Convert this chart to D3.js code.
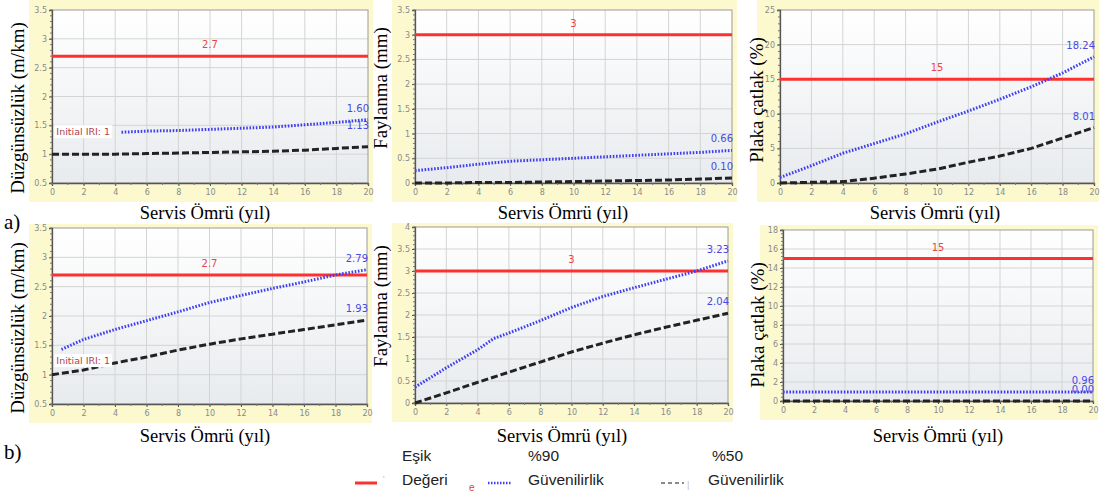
<!DOCTYPE html>
<html>
<head>
<meta charset="utf-8">
<script src="https://cdn.jsdelivr.net/npm/d3@7/dist/d3.min.js"></script>
<style>
  body { margin: 0; background: #fff; }
  svg { display: block; }
</style>
</head>
<body>
<svg id="vis"></svg>
<script>
//DATOS--------------------------------------------------------------------------------------------
const YIL = [0, 2, 4, 6, 8, 10, 12, 14, 16, 18, 20];

// a) fila superior
const A1_P90_YIL = [4.4, 6, 8, 10, 12, 14, 16, 18, 20];
const A1_P90 = [1.38, 1.40, 1.41, 1.43, 1.45, 1.47, 1.51, 1.55, 1.60];
const A1_P50 = [1.0, 1.0, 1.0, 1.01, 1.02, 1.03, 1.04, 1.05, 1.07, 1.10, 1.13];
const A2_P90 = [0.25, 0.31, 0.38, 0.44, 0.47, 0.5, 0.53, 0.56, 0.59, 0.62, 0.66];
const A2_P50 = [0, 0, 0.01, 0.01, 0.02, 0.03, 0.04, 0.05, 0.06, 0.08, 0.1];
const A3_P90 = [0.8, 2.5, 4.3, 5.7, 7.1, 8.8, 10.4, 12.1, 13.9, 15.9, 18.24];
const A3_P50 = [0, 0.1, 0.2, 0.7, 1.3, 2.0, 3.0, 3.9, 5.0, 6.5, 8.01];

// b) fila inferior
const B1_P90_YIL = [0.6, 2, 4, 6, 8, 10, 12, 14, 16, 18, 20];
const B1_P90 = [1.43, 1.6, 1.77, 1.92, 2.07, 2.23, 2.35, 2.47, 2.58, 2.7, 2.79];
const B1_P50 = [1.0, 1.08, 1.2, 1.3, 1.42, 1.52, 1.61, 1.69, 1.77, 1.85, 1.93];
const B2_P90_YIL = [0, 2, 4, 5, 6, 8, 10, 12, 14, 16, 18, 20];
const B2_P90 = [0.36, 0.8, 1.21, 1.46, 1.59, 1.87, 2.17, 2.42, 2.62, 2.81, 3.0, 3.23];
const B2_P50 = [0, 0.23, 0.47, 0.7, 0.93, 1.16, 1.36, 1.55, 1.72, 1.88, 2.04];
const B3_YIL = [0, 20];
const B3_P90 = [0.96, 0.96];
const B3_P50 = [0, 0];

// umbrales (Eşik değeri)
const UMBRALES = [2.7, 3, 15, 2.7, 3, 15];
const TITULOS_Y = ["Düzgünsüzlük (m/km)", "Faylanma (mm)", "Plaka çatlak (%)",
                   "Düzgünsüzlük (m/km)", "Faylanma (mm)", "Plaka çatlak (%)"];
const TITULO_X = "Servis Ömrü (yıl)";
const LEYENDA = [["Eşik", "Değeri"], ["%90", "Güvenilirlik"], ["%50", "Güvenilirlik"]];

//CONSTANTES---------------------------------------------------------------------------------------
const WIDTH = 1100;
const HEIGHT = 492;
const ROJO = "#ff3030";
const AZUL = "#3f3ff2";
const NEGRO = "#222";
const SERIF = "'Liberation Serif', 'Times New Roman', serif";
const SANS = "'DejaVu Sans', Verdana, sans-serif";

const svg = d3.select("#vis").attr("width", WIDTH).attr("height", HEIGHT);
const capaPaneles = svg.append("g");
const capaTitulos = svg.append("g");

const PANELES = [
  { box: { l: 52, r: 368, t: 10, b: 183 }, dom: [0.5, 3.5], paso: 0.5, amarillo: 0,
    p90: [A1_P90_YIL, A1_P90], p50: [YIL, A1_P50], tituloY: [17, 108], tituloX: [205, 213],
    iri: { x: 0.15, y: 1.39 }, dy50: -18 },
  { box: { l: 415, r: 732, t: 10, b: 183 }, dom: [0, 3.5], paso: 0.5, amarillo: 0,
    p90: [YIL, A2_P90], p50: [YIL, A2_P50], tituloY: [380, 88], tituloX: [563, 213] },
  { box: { l: 780, r: 1094, t: 10, b: 183 }, dom: [0, 25], paso: 5, amarillo: 0,
    p90: [YIL, A3_P90], p50: [YIL, A3_P50], tituloY: [756, 100], tituloX: [935, 213] },
  { box: { l: 52, r: 367, t: 228, b: 404 }, dom: [0.5, 3.5], paso: 0.5, amarillo: 224,
    p90: [B1_P90_YIL, B1_P90], p50: [YIL, B1_P50], tituloY: [17, 328], tituloX: [205, 436],
    iri: { x: 0.15, y: 1.24 } },
  { box: { l: 415, r: 728, t: 227, b: 403 }, dom: [0, 4], paso: 0.5, amarillo: 223,
    p90: [B2_P90_YIL, B2_P90], p50: [YIL, B2_P50], tituloY: [380, 306], tituloX: [562, 436] },
  { box: { l: 783, r: 1093, t: 230, b: 401 }, dom: [0, 18], paso: 2, amarillo: 225,
    p90: [B3_YIL, B3_P90], p50: [B3_YIL, B3_P50], tituloY: [757, 325], tituloX: [938, 436] },
];

//GRADIENTE----------------------------------------------------------------------------------------
const defs = svg.append("defs");
const grad = defs.append("linearGradient").attr("id", "fondo")
  .attr("x1", 0).attr("y1", 0).attr("x2", 0).attr("y2", 1);
grad.append("stop").attr("offset", "0%").attr("stop-color", "#ffffff");
grad.append("stop").attr("offset", "100%").attr("stop-color", "#e8ebee");

//FUNCIONES----------------------------------------------------------------------------------------
function pares(xs, ys) {
  return xs.map((x, i) => [x, ys[i]]);
}

function dibujarPanel(p, i) {
  const { l, r, t, b } = p.box;
  const g = capaPaneles.append("g");

  const escalaX = d3.scaleLinear().domain([0, 20]).range([l, r]);
  const escalaY = d3.scaleLinear().domain(p.dom).range([b, t]);
  const ticksY = d3.range(p.dom[0], p.dom[1] + p.paso / 2, p.paso).map(v => +v.toFixed(2));
  const ticksX = d3.range(0, 21, 2);

  // fondo amarillo y area del grafico
  g.append("rect")
    .attr("x", l - 23).attr("y", p.amarillo)
    .attr("width", r - l + 28).attr("height", b - p.amarillo + 19)
    .attr("fill", "#fcf9cf");
  g.append("rect")
    .attr("x", l).attr("y", t).attr("width", r - l).attr("height", b - t)
    .attr("fill", "url(#fondo)");

  // grilla
  g.append("g").selectAll("line").data(ticksX.slice(1, -1)).join("line")
    .attr("x1", d => escalaX(d)).attr("x2", d => escalaX(d))
    .attr("y1", t).attr("y2", b)
    .attr("stroke", "#d4d4d4").attr("stroke-width", 1);
  g.append("g").selectAll("line").data(ticksY.slice(1, -1)).join("line")
    .attr("x1", l).attr("x2", r)
    .attr("y1", d => escalaY(d)).attr("y2", d => escalaY(d))
    .attr("stroke", "#d4d4d4").attr("stroke-width", 1);
  g.append("rect")
    .attr("x", l).attr("y", t).attr("width", r - l).attr("height", b - t)
    .attr("fill", "none").attr("stroke", "#9a9a9a");

  // ejes
  const ejeY = g.append("g").attr("transform", `translate(${l},0)`)
    .call(d3.axisLeft(escalaY).tickValues(ticksY).tickSize(3).tickPadding(2).tickFormat(d => String(d)));
  const ejeX = g.append("g").attr("transform", `translate(0,${b})`)
    .call(d3.axisBottom(escalaX).tickValues(ticksX).tickSize(3).tickPadding(3));
  [ejeY, ejeX].forEach(e => {
    e.select(".domain").attr("stroke", "#555").attr("stroke-width", 1.3);
    e.selectAll(".tick line").attr("stroke", "#555");
    e.selectAll("text").attr("fill", "#8a8a8a").style("font-family", SANS).style("font-size", "8px");
  });
  // ticks menores
  const menoresY = d3.range(p.dom[0], p.dom[1] + 1e-9, p.paso / 5);
  g.append("g").selectAll("line").data(menoresY).join("line")
    .attr("x1", l - 2).attr("x2", l)
    .attr("y1", d => escalaY(d)).attr("y2", d => escalaY(d))
    .attr("stroke", "#777");
  g.append("g").selectAll("line").data(d3.range(0, 20.01, 1)).join("line")
    .attr("x1", d => escalaX(d)).attr("x2", d => escalaX(d))
    .attr("y1", b).attr("y2", b + 2)
    .attr("stroke", "#777");

  // umbral
  const umbral = UMBRALES[i];
  g.append("line")
    .attr("x1", escalaX(0)).attr("x2", escalaX(20))
    .attr("y1", escalaY(umbral)).attr("y2", escalaY(umbral))
    .attr("stroke", ROJO).attr("stroke-width", 3);
  g.append("text")
    .attr("x", escalaX(10)).attr("y", escalaY(umbral) - 8)
    .attr("text-anchor", "middle")
    .attr("fill", "#e94545").style("font-family", SANS).style("font-size", "10px")
    .text(umbral);

  // series
  const linea = d3.line().x(d => escalaX(d[0])).y(d => escalaY(d[1]));
  const datos50 = pares(p.p50[0], p.p50[1]);
  const datos90 = pares(p.p90[0], p.p90[1]);
  g.append("path").datum(datos50).attr("d", linea)
    .attr("fill", "none").attr("stroke", NEGRO).attr("stroke-width", 3)
    .attr("stroke-dasharray", "7,3");
  g.append("path").datum(datos90).attr("d", linea)
    .attr("fill", "none").attr("stroke", AZUL).attr("stroke-width", 3)
    .attr("stroke-dasharray", "1.6,1.6");

  // etiquetas finales
  const fmt = d3.format(".2f");
  const fin90 = datos90[datos90.length - 1];
  const fin50 = datos50[datos50.length - 1];
  g.append("text")
    .attr("x", r + 1).attr("y", escalaY(fin90[1]) - 8)
    .attr("text-anchor", "end")
    .attr("fill", "#4848e6").style("font-family", SANS).style("font-size", "10px")
    .text(fmt(fin90[1]));
  g.append("text")
    .attr("x", r + 1).attr("y", escalaY(fin50[1]) + (p.dy50 || -8))
    .attr("text-anchor", "end")
    .attr("fill", "#4848e6").style("font-family", SANS).style("font-size", "10px")
    .text(fmt(fin50[1]));

  // Initial IRI
  if (p.iri) {
    const tx = g.append("text")
      .attr("x", escalaX(p.iri.x) + 2).attr("y", escalaY(p.iri.y) + 3.5)
      .attr("fill", "#b0404e").style("font-family", SANS).style("font-size", "9.5px")
      .text("Initial IRI: 1");
    const bb = tx.node().getBBox();
    g.insert("rect", () => tx.node())
      .attr("x", bb.x - 2).attr("y", bb.y - 1)
      .attr("width", bb.width + 4).attr("height", bb.height + 2)
      .attr("fill", "#fff");
  }

  // titulos
  capaTitulos.append("text")
    .attr("transform", `translate(${p.tituloY[0]},${p.tituloY[1]}) rotate(-90)`)
    .attr("text-anchor", "middle").attr("dominant-baseline", "central")
    .style("font-family", SERIF).style("font-size", "19px")
    .text(TITULOS_Y[i]);
  capaTitulos.append("text")
    .attr("x", p.tituloX[0]).attr("y", p.tituloX[1])
    .attr("text-anchor", "middle").attr("dominant-baseline", "central")
    .style("font-family", SERIF).style("font-size", "18.5px")
    .text(TITULO_X);
}

PANELES.forEach(dibujarPanel);

//LETRAS a) b)-------------------------------------------------------------------------------------
capaTitulos.append("text").attr("x", 4).attr("y", 229)
  .style("font-family", SERIF).style("font-size", "21px").text("a)");
capaTitulos.append("text").attr("x", 4).attr("y", 459)
  .style("font-family", SERIF).style("font-size", "21px").text("b)");

//LEYENDA------------------------------------------------------------------------------------------
const leyenda = svg.append("g").style("font-family", "'Liberation Sans', Arial, sans-serif")
  .style("font-size", "15.5px").attr("fill", "#222");
const leyX = [402, 528, 708];
const muestras = [
  { x1: 355, x2: 377, color: ROJO, dash: null, w: 3 },
  { x1: 488, x2: 512, color: AZUL, dash: "1.5,1.5", w: 2.5 },
  { x1: 661, x2: 684, color: "#8a8a8a", dash: "4,3", w: 2 },
];
LEYENDA.forEach((par, i) => {
  leyenda.append("text").attr("x", leyX[i] + (i === 2 ? 4 : 0)).attr("y", 461).text(par[0]);
  leyenda.append("text").attr("x", leyX[i]).attr("y", 485).text(par[1]);
  const m = muestras[i];
  leyenda.append("line")
    .attr("x1", m.x1).attr("x2", m.x2).attr("y1", 483).attr("y2", 483)
    .attr("stroke", m.color).attr("stroke-width", m.w)
    .attr("stroke-dasharray", m.dash);
});
leyenda.append("text").attr("x", 383).attr("y", 482).attr("fill", "#f4a0a0")
  .style("font-size", "9px").text("'");
leyenda.append("text").attr("x", 469).attr("y", 491).attr("fill", "#e04040")
  .style("font-size", "10px").text("e");
leyenda.append("text").attr("x", 687).attr("y", 488).attr("fill", "#bbb")
  .style("font-size", "9px").text("|");
</script>
</body>
</html>
